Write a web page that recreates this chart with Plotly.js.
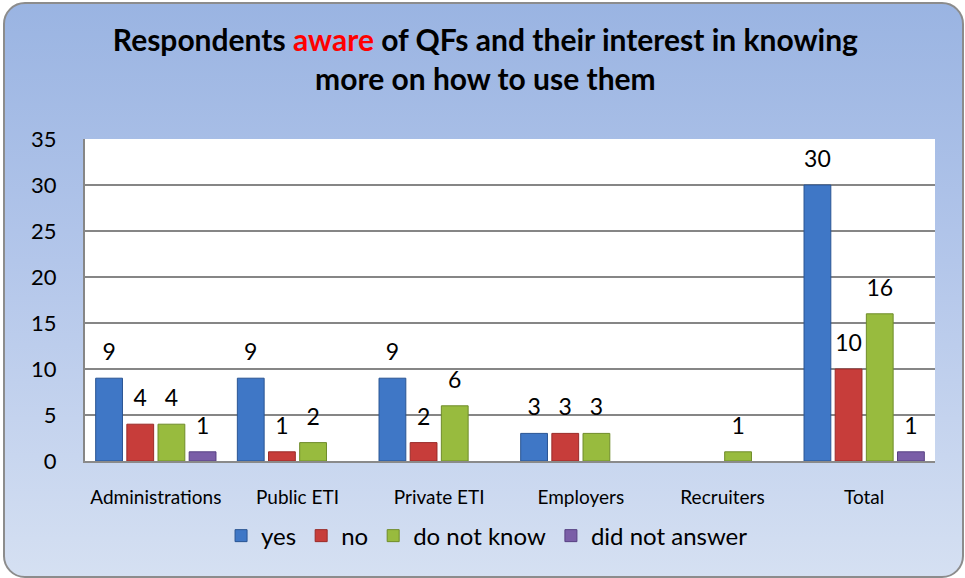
<!DOCTYPE html>
<html><head><meta charset="utf-8">
<script src="https://cdn.plot.ly/plotly-3.0.1.min.js"></script>
<style>
html,body{margin:0;padding:0;background:#fff;}
#wrap{position:absolute;left:3px;top:2px;width:957px;height:572px;border:2px solid #8c8c8c;border-radius:22px;
background:linear-gradient(to bottom,#9ab4e2 0%,#b3c6ea 45%,#d5e0f2 100%);overflow:hidden;}
#chart{position:absolute;left:-5px;top:-4px;width:965px;height:578px;}
</style></head>
<body><div id="wrap"><div id="chart"></div></div>
<script>
const categories = ["Administrations", "Public ETI", "Private ETI", "Employers", "Recruiters", "Total"];
const yesVals = [9, 9, 9, 3, null, 30];
const noVals = [4, 1, 2, 3, null, 10];
const dontKnowVals = [4, 2, 6, 3, 1, 16];
const noAnswerVals = [1, null, null, null, null, 1];
const seriesNames = ["yes", "no", "do not know", "did not answer"];
const yTicks = [0, 5, 10, 15, 20, 25, 30, 35];

const fills = ["#3f77c6", "#c73d3a", "#98bb3e", "#7a5ea7"];
const edges = ["#2a5593", "#9a2b29", "#6f8c2a", "#574183"];
const vals = [yesVals, noVals, dontKnowVals, noAnswerVals];

const traces = vals.map((v, i) => ({
  type: "bar",
  name: seriesNames[i],
  x: categories,
  y: v,
  marker: {color: fills[i], line: {color: edges[i], width: 1}},
  text: v.map(d => d == null ? "" : String(d)),
  texttemplate: "<span style='font-size:23px'>%{text}</span><br> ",
  textposition: "outside",
  cliponaxis: false,
  textfont: {family: "Lato, sans-serif", size: 10, color: "#000"},
  hoverinfo: "x+y+name"
}));

const layout = {
  width: 965, height: 578,
  paper_bgcolor: "rgba(0,0,0,0)",
  plot_bgcolor: "#ffffff",
  margin: {l: 85, r: 30, t: 139, b: 117, autoexpand: false},
  barmode: "group",
  bargap: 0.12,
  bargroupgap: 0.14,
  title: {
    text: "<b>Respondents <span style='color:#ff0000'>aware</span> of QFs and their interest in knowing<br>more on how to use them</b>",
    font: {family: "Lato, sans-serif", size: 30, color: "#000"},
    x: 0.503, xanchor: "center", y: 0.912, yanchor: "top"
  },
  xaxis: {
    type: "category",
    tickfont: {family: "Lato, sans-serif", size: 19, color: "#000"},
    showline: true, linecolor: "#8a8a8a", linewidth: 2,
    ticks: "", ticklabelstandoff: 18
  },
  yaxis: {
    range: [0, 35], tickvals: yTicks, ticktext: yTicks.map(String),
    tickfont: {family: "Lato, sans-serif", size: 22, color: "#000"},
    showgrid: true, gridcolor: "#868686", gridwidth: 2,
    showline: true, linecolor: "#868686", linewidth: 2,
    zeroline: false, ticks: "", ticklabelstandoff: 22
  },
  legend: {
    orientation: "h", x: 0.473, xanchor: "center", y: -0.233, yanchor: "middle",
    font: {family: "Lato, sans-serif", size: 24, color: "#000"},
    bgcolor: "rgba(0,0,0,0)", itemwidth: 30, tracegroupgap: 0
  },
  showlegend: true
};
Plotly.newPlot("chart", traces, layout, {displayModeBar: false, staticPlot: true});
</script></body></html>
